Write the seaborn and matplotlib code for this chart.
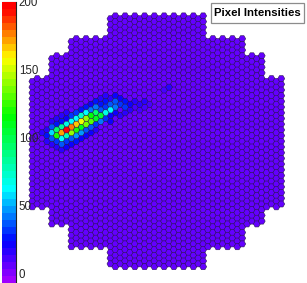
import numpy as np
import matplotlib
matplotlib.use("Agg")
import matplotlib.pyplot as plt
from matplotlib.colors import LinearSegmentedColormap, Normalize
from matplotlib.cm import ScalarMappable
from matplotlib.patches import Rectangle
from matplotlib.ticker import MultipleLocator
import pandas as pd
import seaborn as sns

sns.set_style("white")
plt.rcParams['font.family'] = ['Liberation Sans', 'DejaVu Sans']

# camera outline: blocks of columns and the rows they span (0 = centre line)
block_first_col = [0, 4, 8, 16, 36, 44, 48]
block_last_col = [3, 7, 15, 35, 43, 47, 51]
block_top_row = [-11, -15, -18, -22, -18, -15, -11]
block_bottom_even = [11, 14, 18, 21, 18, 14, 11]
block_bottom_odd = [11, 14, 18, 22, 18, 14, 11]

background_value = 4
# bright pixels: column, row, intensity
ridge_col = [7, 6, 5, 8, 9, 10, 11, 12, 13, 14, 15, 16, 17, 17, 18, 19]
ridge_row = [-2, -2, -1, -3, -3, -4, -4, -5, -5, -5, -5, -6, -7, -6, -7, -6]
ridge_val = [195, 170, 120, 175, 165, 155, 140, 115, 95, 105, 70, 65, 38, 40, 30, 32]
lower_col = [7, 8, 9, 10, 11, 12, 13, 8, 9, 10, 11, 12, 13, 14, 15, 16, 8, 9, 10, 11, 12, 13, 7, 6, 5]
lower_row = [-1, -2, -2, -3, -3, -4, -4, -1, -1, -2, -2, -3, -3, -4, -4, -5, 0, 0, -1, -1, -2, -2, 1, 1, 1]
lower_val = [80, 140, 120, 110, 135, 130, 110, 35, 45, 45, 35, 35, 30, 40, 30, 22, 22, 25, 22, 20, 22, 18, 20, 18, 15]
upper_col = [6, 7, 8, 9, 10, 11, 12, 5, 4, 4, 6, 7, 5, 6, 3, 4, 8, 9, 10, 11, 12, 13, 14, 13, 14, 15, 15, 16, 17, 18, 19, 20, 21, 22, 23, 28, 27,
             2, 3, 3, 4, 5, 6, 7, 4, 5, 6, 7, 16, 17, 18, 19, 20, 21, 22, 23, 24, 14, 15, 16]
upper_row = [-3, -3, -4, -4, -5, -5, -6, -2, -2, -3, -1, 0, 0, 0, -1, -1, -5, -5, -6, -6, -7, -6, -6, -7, -7, -6, -7, -7, -8, -8, -7, -7, -7, -7, -7, -10, -9,
             -2, -2, 0, 0, -3, -4, -4, -4, -4, -5, -5, -4, -5, -5, -5, -6, -6, -6, -6, -7, -8, -8, -8]
upper_val = [85, 70, 65, 62, 75, 65, 40, 95, 60, 35, 65, 30, 30, 35, 25, 35, 30, 30, 28, 25, 22, 40, 35, 25, 28, 30, 25, 35, 20, 22, 25, 22, 18, 15, 15, 15, 12,
             14, 18, 18, 16, 28, 26, 22, 14, 16, 16, 15, 20, 20, 16, 16, 14, 13, 12, 12, 11, 16, 16, 14]

cbar_ticks = [0, 50, 100, 150, 200]
title = "Pixel Intensities"

col, row = [], []
for a, b, top, be, bo in zip(block_first_col, block_last_col, block_top_row,
                             block_bottom_even, block_bottom_odd):
    for c in range(a, b + 1):
        for r in range(top, (be if c % 2 == 0 else bo) + 1):
            col.append(c)
            row.append(r)
df = pd.DataFrame({"col": col, "row": row})
df["value"] = float(background_value)
for c, r, v in zip(ridge_col + lower_col + upper_col,
                   ridge_row + lower_row + upper_row,
                   ridge_val + lower_val + upper_val):
    df.loc[(df.col == c) & (df.row == r), "value"] = float(v)

# hexagon side in camera units = 1; image y axis points up, rows count down
df["x"] = 1.5 * (df.col - 25.5)
df["y"] = -np.sqrt(3) * (df.row + np.where(df.col % 2 == 0, 0.5, 0.0))
df = df.sort_values("value", kind="stable")

W, H = 307, 283
fig = plt.figure(figsize=(W / 100, H / 100), dpi=100)
ax = fig.add_axes([0, 0, 1, 1])
sx, sy = 4.88 / 1.5, 5.7 / np.sqrt(3)
cx, cy = 156.8, 141.3

stops = [(-7, (0.62, 0.0, 1.0)), (22, (0.0, 0.0, 1.0)), (62, (0.0, 1.0, 1.0)),
         (116, (0.0, 1.0, 0.0)), (160, (1.0, 1.0, 0.0)), (197, (1.0, 0.0, 0.0)), (200, (1.0, 0.0, 0.0))]
vmin, vmax = -7, 200
cmap = LinearSegmentedColormap.from_list(
    "rootrainbow", [((v - vmin) / (vmax - vmin), c) for v, c in stops], N=40)
norm = Normalize(vmin, vmax)

sns.scatterplot(data=df, x="x", y="y", hue="value", palette=cmap, hue_norm=norm,
                marker="H", s=25, edgecolor="#2a1650", linewidth=0.4, legend=False,
                ax=ax, clip_on=False)
ax.set_xlim(-cx / sx, (W - cx) / sx)
ax.set_ylim(cy / sy - H / sy, cy / sy)
ax.axis("off")

cax = fig.add_axes([2 / W, 0, 14 / W, 281 / H])
cb = fig.colorbar(ScalarMappable(norm=norm, cmap=cmap), cax=cax)
cb.set_ticks(cbar_ticks)
cb.outline.set_visible(False)
cax.yaxis.set_minor_locator(MultipleLocator(10))
cax.tick_params(axis="y", which="major", direction="in", length=10, width=0.8, color="#222222",
                labelsize=8.3, pad=2, right=True, left=False)
cax.tick_params(axis="y", which="minor", direction="in", length=5, width=0.8, color="#222222",
                right=True, left=False)
cax.spines["right"].set_visible(True)
cax.spines["right"].set_color("#222222")
cax.spines["right"].set_linewidth(0.8)

fig.add_artist(Rectangle((211 / W, 1 - 23 / H), 93 / W, 20 / H, transform=fig.transFigure,
                         fc="white", ec="#8c8c8c", lw=0.9, zorder=5))
fig.text(257.5 / W, 1 - 13.5 / H, title, fontsize=8.2, fontweight="bold", color="black",
         ha="center", va="center", zorder=6)
fig.savefig("out.png", dpi=100)
